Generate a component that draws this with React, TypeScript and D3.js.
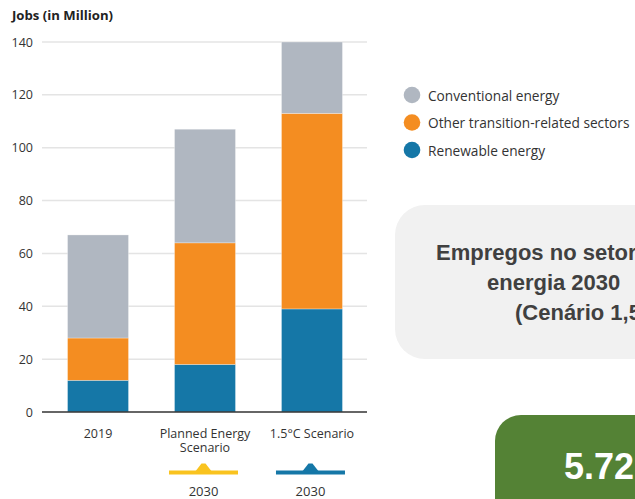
import React from "react";
import * as d3 from "d3";

const categories = ["2019", "Planned Energy Scenario", "1.5°C Scenario"];
const categoryLines = [["2019"], ["Planned Energy", "Scenario"], ["1.5°C Scenario"]];
const renewable = [12, 18, 39];
const otherTransition = [16, 46, 74];
const conventional = [39, 43, 27];
const seriesNames = ["Renewable energy", "Other transition-related sectors", "Conventional energy"];
const legendOrder = ["Conventional energy", "Other transition-related sectors", "Renewable energy"];
const yTicks = [0, 20, 40, 60, 80, 100, 120, 140];
const scenarioYears = [
  { category: "Planned Energy Scenario", label: "2030", color: "#f9c31f" },
  { category: "1.5°C Scenario", label: "2030", color: "#1577a7" },
];
const boxLines = ["Empregos no setor de", "energia 2030", "(Cenário 1,5°C)"];
const highlightValue = "5.72";

const colors: Record<string, string> = {
  "Renewable energy": "#1577a7",
  "Other transition-related sectors": "#f48d21",
  "Conventional energy": "#b0b7c1",
};

export default function App() {
  const width = 635;
  const height = 499;
  const x0 = 42;
  const x1 = 367;
  const y = d3.scaleLinear().domain([0, 140]).range([412, 42]);
  const x = d3
    .scaleBand<string>()
    .domain(categories)
    .range([44, 366])
    .paddingInner(0.43)
    .paddingOuter(0.22);

  const rows = categories.map((c, i) => ({
    category: c,
    "Renewable energy": renewable[i],
    "Other transition-related sectors": otherTransition[i],
    "Conventional energy": conventional[i],
  }));
  const stacked = d3.stack<any>().keys(seriesNames)(rows);
  const font = "'Open Sans', 'Noto Sans', sans-serif";
  const textColor = "#333333";
  const boxFont = "'Liberation Sans', Arial, sans-serif";

  return (
    <svg
      width={width}
      height={height}
      style={{ position: "absolute", left: 0, top: 0, background: "#fff" }}
    >
      <text x={12} y={19.5} fontFamily={font} fontWeight={700} fontSize={13} fill="#222" textLength={101} lengthAdjust="spacingAndGlyphs">
        Jobs (in Million)
      </text>

      {yTicks.map((t) => (
        <g key={t}>
          {t !== 0 && (
            <line x1={x0} x2={x1} y1={y(t)} y2={y(t)} stroke="#e4e4e4" strokeWidth={1.5} />
          )}
          <text
            x={33}
            y={y(t)}
            textAnchor="end"
            dominantBaseline="central"
            fontFamily={font}
            fontSize={12.5}
            fill={textColor}
          >
            {t}
          </text>
        </g>
      ))}

      {stacked.map((s) => (
        <g key={s.key} fill={colors[s.key]}>
          {s.map((d, i) => (
            <rect
              key={i}
              x={x(categories[i])}
              width={x.bandwidth()}
              y={y(d[1])}
              height={y(d[0]) - y(d[1])}
              stroke="#ffffff"
              strokeOpacity={0.5}
              strokeWidth={0.6}
            />
          ))}
        </g>
      ))}

      <line x1={x0} x2={x1} y1={y(0)} y2={y(0)} stroke="#333" strokeWidth={1.5} />

      {categories.map((c, i) => (
        <text
          key={c}
          x={(x(c) as number) + x.bandwidth() / 2}
          y={438}
          textAnchor="middle"
          fontFamily={font}
          fontSize={12.5}
          fill={textColor}
        >
          {categoryLines[i].map((line, j) => (
            <tspan key={j} x={(x(c) as number) + x.bandwidth() / 2} dy={j === 0 ? 0 : 13.5}>
              {line}
            </tspan>
          ))}
        </text>
      ))}

      {scenarioYears.map((s) => {
        const cx = (x(s.category) as number) + x.bandwidth() / 2 - 1.5;
        const ly = 472.5;
        return (
          <g key={s.category}>
            <rect x={cx - 34.5} y={ly - 2} width={69} height={4} fill={s.color} />
            <path
              d={`M${cx - 9},${ly} L${cx - 2},${ly - 9} L${cx + 2},${ly - 9} L${cx + 9},${ly} Z`}
              fill={s.color}
            />
            <text x={cx} y={496} textAnchor="middle" fontFamily={font} fontSize={13} fill={textColor}>
              {s.label}
            </text>
          </g>
        );
      })}

      {legendOrder.map((name, i) => {
        const cy = 95 + i * 27.5;
        return (
          <g key={name}>
            <circle cx={412} cy={cy} r={8.3} fill={colors[name]} />
            <text
              x={428}
              y={cy}
              dominantBaseline="central"
              fontFamily={font}
              fontSize={13.7}
              fill={textColor}
            >
              {name}
            </text>
          </g>
        );
      })}

      <rect x={395} y={205} width={290} height={154} rx={30} ry={30} fill="#f1f1f1" />
      {boxLines.map((line, i) => (
        <text
          key={i}
          x={[436, 487, 515][i]}
          y={260 + i * 30}
          fontFamily={boxFont}
          fontWeight={700}
          fontSize={22}
          fill="#404040"
        >
          {line}
        </text>
      ))}

      <rect x={495} y={415} width={200} height={120} rx={26} ry={26} fill="#548235" />
      <text
        x={564}
        y={479}
        fontFamily={boxFont}
        fontWeight={700}
        fontSize={36}
        fill="#ffffff"
      >
        {highlightValue}
      </text>
    </svg>
  );
}
